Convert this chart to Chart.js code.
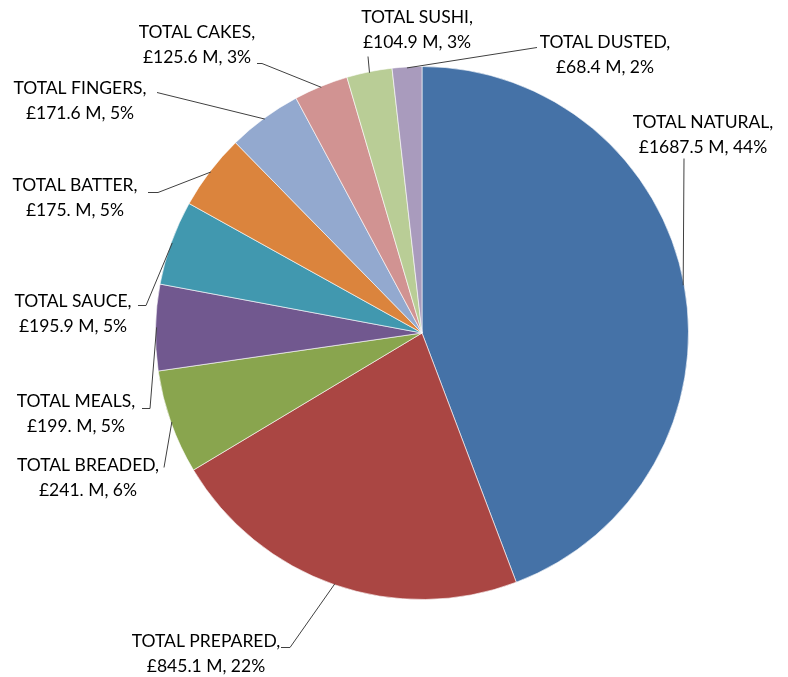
<!DOCTYPE html>
<html>
<head>
<meta charset="utf-8">
<script src="https://cdn.jsdelivr.net/npm/chart.js@4/dist/chart.umd.min.js"></script>
<style>
  html, body { margin: 0; padding: 0; background: #fff; }
  #wrap { width: 788px; height: 677px; position: relative; }
</style>
</head>
<body>
<div id="wrap"><canvas id="pie"></canvas></div>
<script>
// Sales by category, £M
const categories = ['TOTAL NATURAL', 'TOTAL PREPARED', 'TOTAL BREADED', 'TOTAL MEALS', 'TOTAL SAUCE',
                    'TOTAL BATTER', 'TOTAL FINGERS', 'TOTAL CAKES', 'TOTAL SUSHI', 'TOTAL DUSTED'];
const valueText = ['1687.5', '845.1', '241.', '199.', '195.9', '175.', '171.6', '125.6', '104.9', '68.4'];
const values = valueText.map(Number);
const shares = [44, 22, 6, 5, 5, 5, 5, 3, 3, 2];
const colors = ['#4572A7', '#AA4643', '#89A54E', '#71588F', '#4198AF',
                '#DB843D', '#93A9CF', '#D19392', '#B9CD96', '#A99BBD'];

// label box centre and where its leader line leaves the text
const labelAt = [[703, 135], [206, 654], [88, 478], [76, 414], [73, 314],
                 [75, 198], [80, 101], [197, 45], [417, 30], [605, 55]];
const leaderFrom = [[684, 158], [281, 647], [164, 467], [142, 408], [138, 305],
                    [148, 192], [157, 92], [257, 63], [368, 56], [537, 47]];
const elbowTo = [null, [290, 647], null, [150, 408], [146, 305],
                 [158, 192], null, [262, 63], null, null];

const outsideLabels = {
  id: 'outsideLabels',
  afterDatasetsDraw(chart) {
    const ctx = chart.ctx;
    const arcs = chart.getDatasetMeta(0).data;
    ctx.save();
    ctx.strokeStyle = '#404040';
    ctx.lineWidth = 1;
    arcs.forEach((arc, i) => {
      const mid = (arc.startAngle + arc.endAngle) / 2;
      const ex = arc.x + Math.cos(mid) * (arc.outerRadius - 1);
      const ey = arc.y + Math.sin(mid) * (arc.outerRadius - 1);
      ctx.beginPath();
      ctx.moveTo(leaderFrom[i][0], leaderFrom[i][1] + 0.5);
      if (elbowTo[i]) ctx.lineTo(elbowTo[i][0], elbowTo[i][1] + 0.5);
      ctx.lineTo(ex, ey);
      ctx.stroke();
    });
    ctx.fillStyle = '#000';
    ctx.font = '17.5px Lato, "Open Sans", sans-serif';
    ctx.textAlign = 'center';
    ctx.textBaseline = 'middle';
    arcs.forEach((arc, i) => {
      const [x, y] = labelAt[i];
      ctx.fillText(categories[i] + ',', x, y - 12.5);
      ctx.fillText('£' + valueText[i] + ' M, ' + shares[i] + '%', x, y + 12.5);
    });
    ctx.restore();
  }
};

new Chart(document.getElementById('pie'), {
  type: 'pie',
  data: {
    labels: categories,
    datasets: [{
      data: values,
      backgroundColor: colors,
      borderColor: 'rgba(255,255,255,0.6)',
      borderWidth: 1
    }]
  },
  options: {
    responsive: true,
    maintainAspectRatio: false,
    animation: false,
    layout: { padding: { left: 155, right: 99, top: 66, bottom: 77 } },
    plugins: {
      legend: { display: false },
      tooltip: { enabled: false }
    }
  },
  plugins: [outsideLabels]
});
</script>
</body>
</html>
